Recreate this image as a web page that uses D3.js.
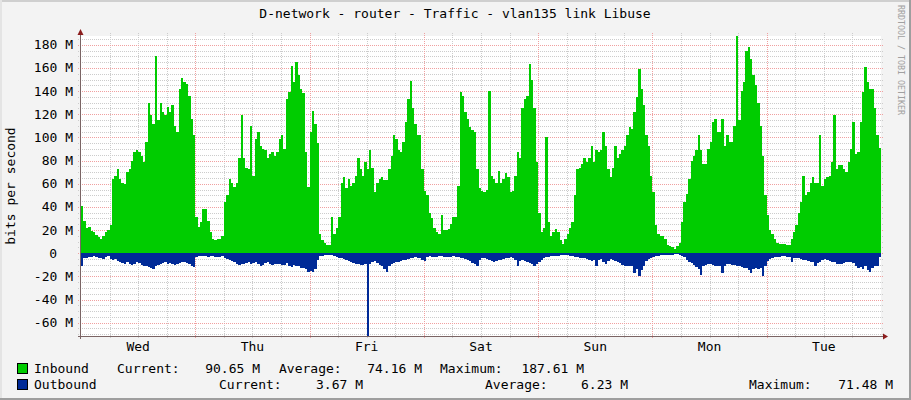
<!DOCTYPE html>
<html lang="en">
<head>
<meta charset="UTF-8">
<title>D-network - router - Traffic - vlan135 link Libuse</title>
<script src="https://d3js.org/d3.v7.min.js"></script>
<style>
  body { margin: 0; background: #f3f3f3; overflow: hidden; }
  svg { display: block; font-family: "DejaVu Sans Mono", monospace; }
  text { fill: #000; }
</style>
</head>
<body>
<script>
// Half-hourly samples in Mbit/s, 48 per day, first sample Wed 00:00
const wedIn = [41,28,22,23,19,18,16,14,12,15,18,20,24,64,67,73,64,61,60,70,73,80,87,89,87,84,79,96,130,119,112,170,115,130,122,119,126,122,128,110,105,142,151,148,146,136,116,102];
const thuIn = [31,23,27,38,38,28,18,12,11,12,12,15,44,50,64,61,57,61,82,119,82,74,73,110,67,99,105,93,90,89,82,86,87,84,87,99,102,90,133,139,162,148,165,154,142,138,87,57];
const friIn = [105,123,112,95,17,11,9,7,7,31,17,22,31,61,66,56,64,58,61,67,82,73,67,79,73,89,74,53,61,64,66,63,63,73,84,102,99,89,87,96,113,133,149,125,112,102,102,73];
const satIn = [54,50,35,30,22,18,17,33,20,20,21,25,31,31,58,139,136,122,116,109,106,105,73,56,54,53,55,140,67,64,61,71,61,64,69,66,53,54,67,87,82,125,133,136,163,150,125,79];
const sunIn = [35,18,22,100,27,15,18,21,18,11,8,12,17,22,27,50,73,74,77,82,79,82,93,79,89,87,89,105,93,73,66,74,93,82,86,89,93,102,109,107,122,135,159,142,128,102,93,67];
const monIn = [53,24,17,15,15,12,7,6,5,4,6,9,27,44,51,64,80,84,89,102,89,77,77,90,96,113,116,105,105,116,93,102,96,96,110,187.61,115,140,148,175,178,168,154,145,130,110,84,50];
const tueIn = [33,20,17,12,9,8,8,8,7,7,12,18,24,35,44,67,50,53,61,66,61,61,102,58,64,66,67,79,119,73,76,76,73,70,79,90,113,86,87,113,139,161,148,142,142,125,102,90.65];

const wedOut = [10.6,4.3,3.7,3.5,3.2,2.6,2.9,3.7,4.3,4.9,3.5,2.6,4.9,5.5,4.9,6.3,7.2,8.4,9.2,7.8,9.5,10.1,8.9,7.8,8.4,10.1,10.6,11.2,12.1,13.0,13.5,11.2,10.1,8.9,8.4,7.2,8.9,8.4,9.5,10.1,8.9,8.4,7.8,7.2,8.4,8.9,10.6,11.8];
const thuOut = [3.5,2.0,2.3,2.0,2.6,3.2,2.6,2.3,2.9,2.9,3.2,2.6,3.7,4.9,6.0,6.6,7.2,8.9,10.1,9.5,8.9,8.4,7.8,9.2,8.4,7.2,9.5,10.6,10.1,8.4,7.8,8.9,10.1,9.5,8.9,9.5,10.1,10.1,8.4,10.6,11.8,10.1,10.6,11.2,12.4,13.0,13.5,15.8];
const friOut = [15.3,16.4,13.5,5.5,2.6,2.0,1.7,1.4,1.4,1.7,2.0,2.9,3.7,4.3,4.9,5.5,6.3,7.8,8.4,8.9,9.5,10.1,10.4,9.5,71.48,9.5,7.8,6.6,8.4,10.1,11.2,13.5,15.8,10.6,9.5,8.4,7.8,7.2,6.6,6.0,5.5,4.9,4.3,3.7,3.5,3.7,4.3,5.5];
const satOut = [6.6,3.2,2.6,2.9,3.2,2.9,2.6,2.6,2.9,3.2,2.9,2.9,2.6,3.2,3.5,3.7,4.3,4.9,5.5,6.6,8.4,9.2,11.2,6.0,4.3,4.3,4.9,5.5,6.6,7.2,6.6,6.0,5.5,4.9,4.3,3.7,3.5,4.3,5.5,10.6,6.3,5.5,6.6,7.2,8.4,8.9,11.2,8.9];
const sunOut = [7.8,5.5,3.7,3.2,2.9,2.6,2.3,2.0,2.0,1.7,1.4,1.7,1.7,2.0,2.3,2.9,3.5,3.7,4.0,4.3,4.9,5.5,6.3,5.5,11.2,5.5,4.9,7.8,9.5,6.3,4.9,5.5,6.3,7.2,8.4,10.1,11.2,10.6,11.2,10.6,17.0,13.5,19.9,14.1,10.6,6.6,4.9,3.7];
const monOut = [3.2,2.3,2.0,1.7,1.4,1.4,1.2,1.2,1.2,0.9,0.9,1.2,2.3,3.5,5.5,7.2,8.4,10.1,11.8,13.5,18.7,11.2,10.1,9.5,9.2,9.8,10.6,11.2,11.2,17.0,10.6,9.5,9.2,10.1,10.1,10.6,11.2,12.1,13.0,13.0,14.1,17.0,13.5,12.4,13.5,12.4,19.3,10.6];
const tueOut = [6.3,4.9,3.7,3.5,3.2,2.9,2.6,2.6,2.9,3.2,7.2,3.7,3.7,4.3,4.9,5.5,6.0,6.6,7.2,7.8,10.6,8.4,7.2,6.0,4.9,5.5,6.6,7.2,7.8,8.9,9.5,8.9,8.4,7.8,7.2,7.8,8.4,10.6,13.0,11.8,13.5,11.2,14.7,15.8,12.4,11.2,10.6,3.67];

const dayNames = ["Wed", "Thu", "Fri", "Sat", "Sun", "Mon", "Tue"];
const yTicks = [-60, -40, -20, 0, 20, 40, 60, 80, 100, 120, 140, 160, 180];
const inboundStats = ["90.65 M", "74.16 M", "187.61 M"];
const outboundStats = ["3.67 M", "6.23 M", "71.48 M"];
const yMin = -71.48, yMax = 187.61;

const W = 911, H = 400;
const plot = { left: 81, right: 881, top: 36, bottom: 336 };

const svg = d3.select("body").append("svg")
  .attr("width", W)
  .attr("height", H);

// Frame with the rrdtool style shading
svg.append("rect").attr("width", W).attr("height", H).attr("fill", "#f3f3f3");
svg.append("rect").attr("x", 0).attr("y", 0).attr("width", W).attr("height", 2).attr("fill", "#cfcfcf");
svg.append("rect").attr("x", 0).attr("y", 0).attr("width", 2).attr("height", H).attr("fill", "#e4e4e4");
svg.append("rect").attr("x", 0).attr("y", H - 2).attr("width", W).attr("height", 2).attr("fill", "#9e9e9e");
svg.append("rect").attr("x", W - 2).attr("y", 0).attr("width", 2).attr("height", H).attr("fill", "#9e9e9e");

// Canvas
svg.append("rect")
  .attr("x", plot.left).attr("y", plot.top)
  .attr("width", plot.right - plot.left).attr("height", plot.bottom - plot.top)
  .attr("fill", "#ffffff");

// Time axis: one week starting on a Wednesday
const start = new Date(2024, 0, 3);
const end = d3.timeDay.offset(start, 7);
const step = 30 * 60 * 1000;

const inbound = [].concat(wedIn, thuIn, friIn, satIn, sunIn, monIn, tueIn);
const outbound = [].concat(wedOut, thuOut, friOut, satOut, sunOut, monOut, tueOut);
const series = inbound.map((v, i) => ({ t: new Date(+start + i * step), inb: v, out: outbound[i] }));
series.push({ t: end, inb: inbound[inbound.length - 1], out: outbound[outbound.length - 1] });

const x = d3.scaleTime().domain([start, end]).range([plot.left, plot.right]);
const y = d3.scaleLinear().domain([yMin, yMax]).range([plot.bottom, plot.top]);

// Grid lines (dotted, drawn below the data)
const grid = svg.append("g").attr("shape-rendering", "crispEdges").attr("stroke-dasharray", "1,1");

const minorY = d3.range(-70, 190, 5).filter(v => v % 20 !== 0);
grid.selectAll(".hminor").data(minorY).enter().append("line")
  .attr("x1", plot.left - 3).attr("x2", plot.right + 3)
  .attr("y1", d => Math.round(y(d)) + 0.5).attr("y2", d => Math.round(y(d)) + 0.5)
  .attr("stroke", "#cccccc");

const midnights = d3.timeDay.range(d3.timeDay.offset(start, 1), end);
const sixHours = d3.timeHour.every(6).range(start, end).filter(d => d.getHours() !== 0);
grid.selectAll(".vminor").data(sixHours).enter().append("line")
  .attr("x1", d => Math.round(x(d)) + 0.5).attr("x2", d => Math.round(x(d)) + 0.5)
  .attr("y1", plot.top - 3).attr("y2", plot.bottom + 3)
  .attr("stroke", "#cccccc");

grid.selectAll(".hmajor").data(yTicks).enter().append("line")
  .attr("x1", plot.left - 3).attr("x2", plot.right + 3)
  .attr("y1", d => Math.round(y(d)) + 0.5).attr("y2", d => Math.round(y(d)) + 0.5)
  .attr("stroke", "#f0a0a0");

grid.selectAll(".vmajor").data(midnights).enter().append("line")
  .attr("x1", d => Math.round(x(d)) + 0.5).attr("x2", d => Math.round(x(d)) + 0.5)
  .attr("y1", plot.top - 3).attr("y2", plot.bottom + 3)
  .attr("stroke", "#f0a0a0");

// Inbound (up) and outbound (mirrored down) areas
const inArea = d3.area()
  .curve(d3.curveStepAfter)
  .x(d => x(d.t))
  .y0(y(0))
  .y1(d => y(d.inb));

const outArea = d3.area()
  .curve(d3.curveStepAfter)
  .x(d => x(d.t))
  .y0(y(0))
  .y1(d => y(-d.out));

svg.append("path").datum(series).attr("d", inArea)
  .attr("fill", "#00cc00").attr("shape-rendering", "crispEdges");
svg.append("path").datum(series).attr("d", outArea)
  .attr("fill", "#002a97").attr("shape-rendering", "crispEdges");

// Axes with arrows
const axisColor = "#7a6464";
svg.append("line")
  .attr("x1", plot.left - 0.5).attr("x2", plot.left - 0.5)
  .attr("y1", plot.bottom + 3).attr("y2", plot.top - 4)
  .attr("stroke", axisColor);
svg.append("line")
  .attr("x1", plot.left - 3).attr("x2", plot.right + 3)
  .attr("y1", plot.bottom + 0.5).attr("y2", plot.bottom + 0.5)
  .attr("stroke", axisColor);
svg.append("path")
  .attr("d", `M${plot.left - 0.5},${plot.top - 7} L${plot.left - 3.5},${plot.top - 1} L${plot.left + 2.5},${plot.top - 1} Z`)
  .attr("fill", "#8b1c1c");
svg.append("path")
  .attr("d", `M${plot.right + 7},${plot.bottom + 0.5} L${plot.right + 2},${plot.bottom - 2.5} L${plot.right + 2},${plot.bottom + 3.5} Z`)
  .attr("fill", "#8b1c1c");

// Y labels
svg.selectAll(".ylab").data(yTicks).enter().append("text")
  .attr("x", d => d === 0 ? 57 : 73)
  .attr("y", d => y(d) + 4.5)
  .attr("text-anchor", "end")
  .attr("font-size", 13)
  .text(d => d === 0 ? "0" : d + " M");

// Day labels at noon
svg.selectAll(".xlab").data(dayNames).enter().append("text")
  .attr("x", (d, i) => x(d3.timeHour.offset(d3.timeDay.offset(start, i), 12)))
  .attr("y", 350.5)
  .attr("text-anchor", "middle")
  .attr("font-size", 13)
  .text(d => d);

// Title and axis title
svg.append("text")
  .attr("x", 455).attr("y", 18)
  .attr("text-anchor", "middle")
  .attr("font-size", 13)
  .text("D-network - router - Traffic - vlan135 link Libuse");

svg.append("text")
  .attr("transform", "translate(15,186) rotate(-90)")
  .attr("text-anchor", "middle")
  .attr("font-size", 13)
  .text("bits per second");

// Watermark on the right edge
svg.append("text")
  .attr("transform", "translate(898,5) rotate(90)")
  .attr("font-size", 8.3)
  .style("fill", "#a0a0a0")
  .text("RRDTOOL / TOBI OETIKER");

// Legend
const legend = svg.append("g").attr("font-size", 13);
legend.append("rect").attr("x", 17.5).attr("y", 363.5).attr("width", 10).attr("height", 10)
  .attr("fill", "#00cc00").attr("stroke", "#000");
legend.append("rect").attr("x", 17.5).attr("y", 379.5).attr("width", 10).attr("height", 10)
  .attr("fill", "#002a97").attr("stroke", "#000");

const legendItems = [
  { txt: "Inbound", x: 34, y: 373, anchor: "start" },
  { txt: "Current:", x: 117, y: 373, anchor: "start" },
  { txt: inboundStats[0], x: 260, y: 373, anchor: "end" },
  { txt: "Average:", x: 279, y: 373, anchor: "start" },
  { txt: inboundStats[1], x: 422, y: 373, anchor: "end" },
  { txt: "Maximum:", x: 440, y: 373, anchor: "start" },
  { txt: inboundStats[2], x: 584, y: 373, anchor: "end" },
  { txt: "Outbound", x: 34, y: 389, anchor: "start" },
  { txt: "Current:", x: 219, y: 389, anchor: "start" },
  { txt: outboundStats[0], x: 363, y: 389, anchor: "end" },
  { txt: "Average:", x: 485, y: 389, anchor: "start" },
  { txt: outboundStats[1], x: 628, y: 389, anchor: "end" },
  { txt: "Maximum:", x: 749, y: 389, anchor: "start" },
  { txt: outboundStats[2], x: 893, y: 389, anchor: "end" }
];
legend.selectAll("text").data(legendItems).enter().append("text")
  .attr("x", d => d.x).attr("y", d => d.y)
  .attr("text-anchor", d => d.anchor)
  .text(d => d.txt);
</script>
</body>
</html>
